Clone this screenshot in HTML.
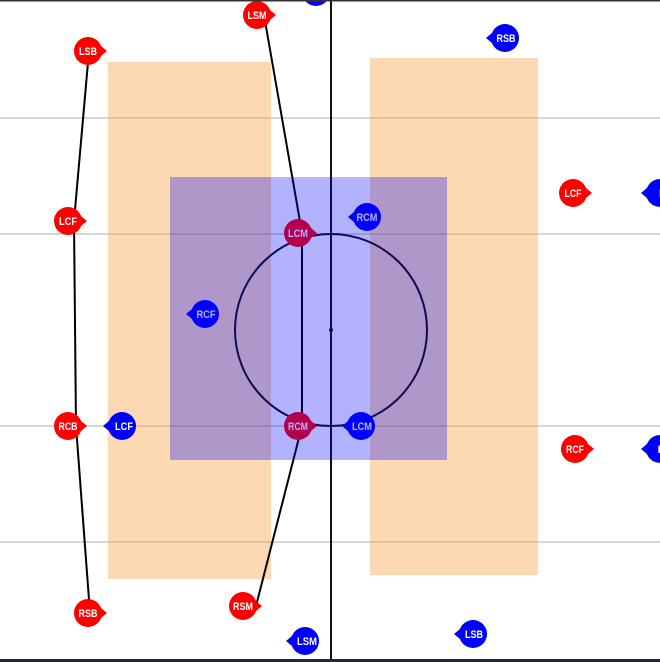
<!DOCTYPE html>
<html><head><style>html,body{margin:0;padding:0;background:#fff}svg{display:block}</style></head>
<body>
<svg width="660" height="662" viewBox="0 0 660 662" xmlns="http://www.w3.org/2000/svg" font-family="Liberation Sans, sans-serif">
<rect x="0" y="0" width="660" height="662" fill="#fff"/>
<g stroke="#d6d6d6" stroke-width="2">
<line x1="0" y1="118" x2="660" y2="118"/><line x1="0" y1="234" x2="660" y2="234"/>
<line x1="0" y1="426" x2="660" y2="426"/><line x1="0" y1="542" x2="660" y2="542"/>
</g>
<rect x="108" y="62" width="163" height="517" fill="#fba54a" opacity="0.42"/>
<rect x="370" y="58" width="168" height="517" fill="#fba54a" opacity="0.42"/>
<line x1="331" y1="0" x2="331" y2="662" stroke="#111" stroke-width="2"/>
<circle cx="331" cy="330" r="96" fill="none" stroke="#111" stroke-width="2"/>
<circle cx="331" cy="330" r="2" fill="#111"/>
<polyline points="89,51 74,221 76,426 90,613" fill="none" stroke="#000" stroke-width="2"/>
<polyline points="264,15 302,233 302,426 256,606" fill="none" stroke="#000" stroke-width="2"/>
<defs>
<g id="r"><polygon points="13,-5 19,0 13,5" fill="#f00"/><circle r="14" fill="#f00"/></g>
<g id="b"><polygon points="-13,-5 -19,0 -13,5" fill="#00f"/><circle r="14" fill="#00f"/></g>
</defs>
<g font-size="11" font-weight="bold" fill="#fff" text-anchor="middle">
<use href="#r" x="257" y="15"/><text x="257" y="19" textLength="19" lengthAdjust="spacingAndGlyphs">LSM</text>
<use href="#r" x="88" y="51"/><text x="88" y="55" textLength="18" lengthAdjust="spacingAndGlyphs">LSB</text>
<use href="#r" x="68" y="221"/><text x="68" y="225" textLength="18" lengthAdjust="spacingAndGlyphs">LCF</text>
<use href="#r" x="298" y="233"/><text x="298" y="237" textLength="20" lengthAdjust="spacingAndGlyphs">LCM</text>
<use href="#r" x="68" y="426"/><text x="68" y="430" textLength="19" lengthAdjust="spacingAndGlyphs">RCB</text>
<use href="#r" x="298" y="426"/><text x="298" y="430" textLength="20" lengthAdjust="spacingAndGlyphs">RCM</text>
<use href="#r" x="88" y="613"/><text x="88" y="617" textLength="19" lengthAdjust="spacingAndGlyphs">RSB</text>
<use href="#r" x="243" y="606"/><text x="243" y="610" textLength="20" lengthAdjust="spacingAndGlyphs">RSM</text>
<use href="#r" x="573" y="193"/><text x="573" y="197" textLength="17" lengthAdjust="spacingAndGlyphs">LCF</text>
<use href="#r" x="575" y="449"/><text x="575" y="453" textLength="18" lengthAdjust="spacingAndGlyphs">RCF</text>
<use href="#b" x="316" y="-8"/>
<use href="#b" x="505" y="38"/><text x="506" y="42" textLength="19" lengthAdjust="spacingAndGlyphs">RSB</text>
<use href="#b" x="367" y="217"/><text x="367" y="221" textLength="21" lengthAdjust="spacingAndGlyphs">RCM</text>
<use href="#b" x="205" y="314"/><text x="206" y="318" textLength="19" lengthAdjust="spacingAndGlyphs">RCF</text>
<use href="#b" x="122" y="426"/><text x="124" y="430" textLength="18" lengthAdjust="spacingAndGlyphs">LCF</text>
<use href="#b" x="361" y="426"/><text x="362" y="430" textLength="20" lengthAdjust="spacingAndGlyphs">LCM</text>
<use href="#b" x="305" y="641"/><text x="307" y="645" textLength="20" lengthAdjust="spacingAndGlyphs">LSM</text>
<use href="#b" x="473" y="634"/><text x="474" y="638" textLength="18" lengthAdjust="spacingAndGlyphs">LSB</text>
<use href="#b" x="660" y="193"/><text x="663" y="197">R</text>
<use href="#b" x="660" y="449"/><text x="665" y="453">LC</text>
</g>
<rect x="170" y="177" width="277" height="283" fill="#0000ff" opacity="0.3"/>
<rect x="0" y="0" width="660" height="1.5" fill="#333"/>
<rect x="0" y="659" width="660" height="3" fill="#1e2a30"/>
</svg>
</body></html>
